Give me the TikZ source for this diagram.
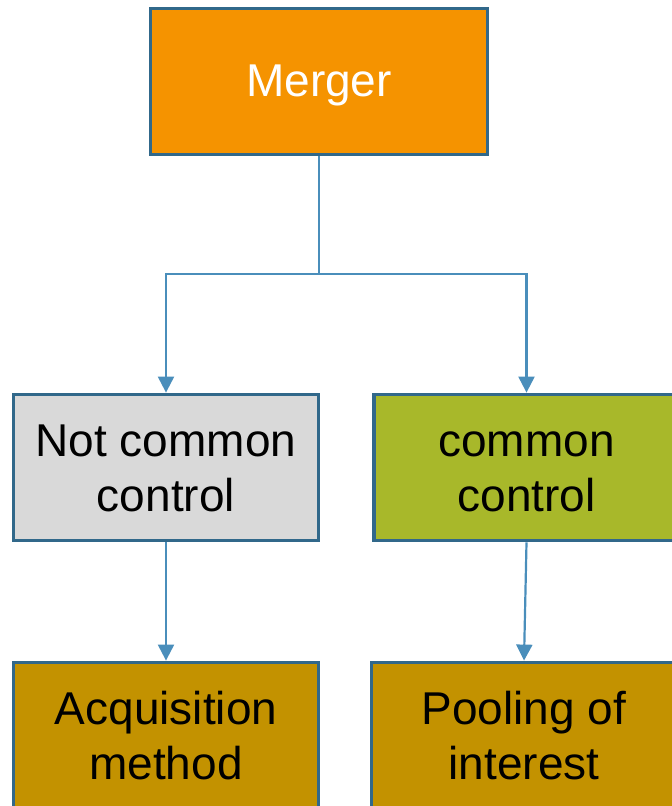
\documentclass[tikz,border=0pt]{standalone}
\usepackage{fontspec}
\setmainfont{Liberation Sans}
\usetikzlibrary{arrows.meta}
\definecolor{edgeblue}{HTML}{31688A}
\definecolor{linkblue}{HTML}{4A8EBB}
\definecolor{mergeorange}{HTML}{F59300}
\definecolor{boxgray}{HTML}{D9D9D9}
\definecolor{boxgreen}{HTML}{A8B82A}
\definecolor{boxgold}{HTML}{C39200}
% fixed line struts so every box sets its text at the same height
\newcommand{\toprule}{\rule{0pt}{36pt}}
\newcommand{\soletoprule}{\rule{0pt}{40pt}}
\newcommand{\botrule}{\rule[-2pt]{0pt}{2pt}}
\tikzset{
  box/.style={rectangle, draw=edgeblue, line width=3.8pt, minimum width=305pt,
    minimum height=146pt, inner sep=0pt, align=center,
    font=\fontsize{46}{55}\selectfont, text=black},
  conn/.style={draw=linkblue, line width=2.2pt,
    -{Triangle[width=16pt,length=16pt]}},
  plainconn/.style={draw=linkblue, line width=2.2pt}
}
\begin{document}
\begin{tikzpicture}[x=1pt,y=1pt]
  \useasboundingbox (0,0) rectangle (672,806);
  \clip (0,0) rectangle (672,806);
  \node[box, fill=mergeorange, text=white, minimum width=337pt] (merger) at (319,724.5) {\soletoprule Merger\botrule};
  \node[box, fill=boxgray] (notcommon) at (166,338.5) {\toprule Not common\\control\botrule};
  \node[box, fill=boxgreen] (common) at (526.5,338.5) {\toprule common\\control\botrule};
  \node[box, fill=boxgold] (acq) at (166,70.5) {\toprule Acquisition\\method\botrule};
  \node[box, fill=boxgold] (pool) at (524,70.5) {\toprule Pooling of\\interest\botrule};
  \coordinate (split) at (319,532);
  \draw[plainconn] (merger.south) -- (split);
  \draw[conn] (split) -| (notcommon.north);
  \draw[conn] (split) -| (common.north);
  \draw[conn] (notcommon.south) -- (acq.north);
  \draw[conn] (common.south) -- (pool.north);
\end{tikzpicture}
\end{document}
